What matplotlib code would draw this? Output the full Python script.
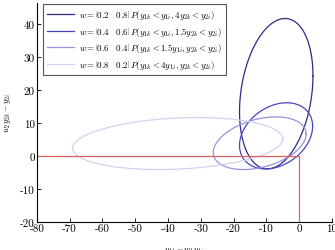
import numpy as np
import matplotlib
matplotlib.use("Agg")
import matplotlib.pyplot as plt

plt.rcParams['font.family'] = 'serif'
plt.rcParams['font.serif'] = ['cmr10', 'DejaVu Serif']
plt.rcParams['mathtext.fontset'] = 'cm'
plt.rcParams['axes.unicode_minus'] = False
plt.rcParams['axes.formatter.use_mathtext'] = True

# ellipse parameters
labels = [
    r"$w=\left[0.2\quad 0.8\right]\,P(y_{1k}<y_{1i},4y_{2k}<y_{2i})$",
    r"$w=\left[0.4\quad 0.6\right]\,P(y_{1k}<y_{1i},1.5y_{2k}<y_{2i})$",
    r"$w=\left[0.6\quad 0.4\right]\,P(y_{1k}<1.5y_{1i},y_{2k}<y_{2i})$",
    r"$w=\left[0.8\quad 0.2\right]\,P(y_{1k}<4y_{1i},y_{2k}<y_{2i})$",
]
center_x = [-7.0, -7.05, -12.05, -37.05]
center_y = [18.95, 6.15, 3.9, 3.8]
half_x = [11.2, 11.15, 14.15, 32.05]
half_y = [22.85, 10.05, 8.0, 7.9]
corr = [0.24, 0.29, 0.35, 0.18]
colors = ['#2b2b88', '#4646c4', '#9393e0', '#d2d2f2']

red_x = [-80, 0, 0]
red_y = [0, 0, -20]

x_ticks = list(range(-80, 11, 10))
y_ticks = list(range(-20, 41, 10))

fig = plt.figure(figsize=(3.35, 2.51), dpi=100)
ax = fig.add_axes([0.110, 0.112, 0.881, 0.872])

t = np.linspace(0, 2 * np.pi, 400)
for cx, cy, ax_, ay_, r, c, lab in zip(center_x, center_y, half_x, half_y, corr, colors, labels):
    phi = np.arccos(r)
    xs = cx + ax_ * np.cos(t)
    ys = cy + ay_ * np.cos(t - phi)
    ax.plot(xs, ys, color=c, lw=0.9, label=lab)

ax.plot(red_x, red_y, color='#e06060', lw=0.9)

ax.set_xlim(-80, 10)
ax.set_ylim(-20, 46.5)
ax.set_xticks(x_ticks)
ax.set_xticklabels([str(v) for v in x_ticks])
ax.set_yticks(y_ticks)
ax.set_yticklabels([str(v) for v in y_ticks])
for s in ['top', 'right']:
    ax.spines[s].set_visible(False)
for s in ['left', 'bottom']:
    ax.spines[s].set_linewidth(0.8)
ax.tick_params(direction='in', length=3, width=0.6, labelsize=8, pad=1.5)

ax.set_xlabel(r"$y_{1k}-w_1y_{1i}$", fontsize=6, labelpad=8)
ax.set_ylabel(r"$w_2y_{2k}-y_{2i}$", fontsize=6, labelpad=5)

leg = ax.legend(loc='upper left', bbox_to_anchor=(0.022, 0.995), fontsize=6.4,
                fancybox=False, edgecolor='#555555', framealpha=1,
                handlelength=3.0, handletextpad=0.6, borderpad=0.45,
                labelspacing=0.4, borderaxespad=0.0)
leg.get_frame().set_linewidth(0.8)

fig.savefig('out.png', dpi=100)
